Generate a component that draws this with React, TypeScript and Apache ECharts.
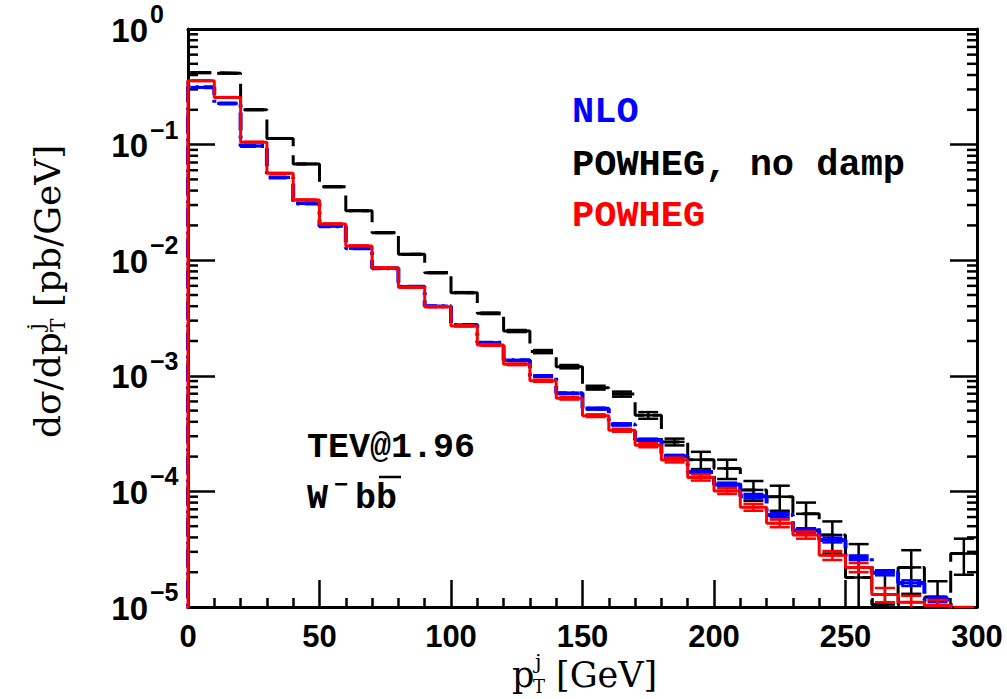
import React, { useEffect, useRef } from "react";
import * as echarts from "echarts";

// ---- data ----
const binEdges = [0, 10, 20, 30, 40, 50, 60, 70, 80, 90, 100, 110, 120, 130, 140, 150, 160, 170, 180, 190, 200, 210, 220, 230, 240, 250, 260, 270, 280, 290];
const binWidth = 10;
const xMax = 300;
const yMin = 1e-5;
const yMax = 1;
const histFloor = 1e-6;

const nlo = [0.313, 0.227, 0.0973, 0.052, 0.031, 0.0197, 0.0127, 0.0085, 0.0059, 0.004, 0.00275, 0.00193, 0.00136, 0.000996, 0.000705, 0.00052, 0.00038, 0.000279, 0.000201, 0.000147, 0.000115, 0.000091, 0.0000625, 0.000046, 0.000038, 0.0000267, 0.0000198, 0.0000161, 0.0000116, 0.000009];
const nloErr = [0.0015, 0.0011, 0.0005, 0.0003, 0.0002, 0.00012, 0.00008, 0.00005, 0.00004, 0.00003, 0.00002, 0.000015, 0.000015, 0.000012, 0.00001, 0.00001, 0.000008, 0.000007, 0.000006, 0.000005, 0.000004, 0.000004, 0.000003, 0.000002, 0.0000018, 0.0000012, 0.000001, 0.0000009, 0.0000006, 0.0000005];

const noDamp = [0.419, 0.414, 0.2, 0.113, 0.068, 0.0432, 0.0268, 0.0173, 0.01125, 0.0078, 0.00524, 0.00347, 0.00244, 0.00162, 0.0012, 0.00079, 0.000695, 0.000455, 0.000268, 0.000188, 0.000158, 0.000103, 0.00009, 0.000064, 0.000042, 0.000018, 0.0000105, 0.000022, 0.0000122, 0.000029];
const noDampErr = [0.002, 0.002, 0.001, 0.0006, 0.0004, 0.0003, 0.0002, 0.00012, 0.00009, 0.00007, 0.00005, 0.00005, 0.00005, 0.00005, 0.00004, 0.00003, 0.000035, 0.00003, 0.000018, 0.000032, 0.00003, 0.00002, 0.000022, 0.000016, 0.000013, 0.000017, 0.00001, 0.000009, 0.0000045, 0.00001];

const powheg = [0.357, 0.256, 0.105, 0.0564, 0.0332, 0.0206, 0.0133, 0.00857, 0.00582, 0.00396, 0.0027, 0.00185, 0.001256, 0.000907, 0.000638, 0.000452, 0.000338, 0.000251, 0.000187, 0.000132, 0.000101, 0.000073, 0.000053, 0.000042, 0.000028, 0.000022, 0.0000128, 0.000011, 0.0000103, 0.000009];
const powhegErr = [0.002, 0.0015, 0.0007, 0.0004, 0.00025, 0.00015, 0.0001, 0.00007, 0.00005, 0.00004, 0.00003, 0.00003, 0.00002, 0.00002, 0.000015, 0.000012, 0.00001, 0.00001, 0.000009, 0.000008, 0.000006, 0.000005, 0.000004, 0.000003, 0.0000025, 0.000002, 0.0000018, 0.0000015, 0.0000012, 0.000001];

const yTickExponents = [0, -1, -2, -3, -4, -5];
const minorMultipliers = [2, 3, 4, 5, 6, 7, 8, 9];
const decades = [1e-5, 1e-4, 1e-3, 1e-2, 1e-1];

const seriesNames = ["NLO", "POWHEG, no damp", "POWHEG"];
const seriesColors = ["#0000ff", "#000000", "#ff0000"];

const tickFont = "'Liberation Sans Narrow', 'Liberation Sans', Arial, sans-serif";
const monoFont = "'Liberation Mono', 'Courier New', monospace";
const serifFont = "'DejaVu Serif', serif";

function stepData(vals: number[]) {
  const pts: number[][] = [[binEdges[0], histFloor]];
  vals.forEach((v, i) => pts.push([binEdges[i], v]));
  pts.push([xMax, vals[vals.length - 1]]);
  return pts;
}

function errorSeries(vals: number[], errs: number[], color: string, width: number, z: number) {
  return {
    type: "custom",
    z,
    silent: true,
    data: vals.map((v, i) => [binEdges[i] + binWidth / 2, v, errs[i]]),
    renderItem: (params: any, api: any) => {
      const x = api.value(0);
      const v = api.value(1);
      const e = api.value(2);
      const cs = params.coordSys;
      const yTop = cs.y;
      const yBot = cs.y + cs.height;
      const pHi = api.coord([x, v + e]);
      const pMid = api.coord([x, v]);
      const loY = v - e > 0 ? api.coord([x, v - e])[1] : yBot + 50;
      if (pHi[1] > yBot) return null;
      const clamp = (y: number) => Math.min(Math.max(y, yTop), yBot);
      const cx = pMid[0];
      const half = 10;
      const children: any[] = [
        { type: "line", shape: { x1: cx, y1: clamp(pHi[1]), x2: cx, y2: clamp(loY) }, style: { stroke: color, lineWidth: width } },
      ];
      [pHi[1], pMid[1], loY].forEach((yy) => {
        if (yy >= yTop && yy <= yBot) {
          children.push({ type: "line", shape: { x1: cx - half, y1: yy, x2: cx + half, y2: yy }, style: { stroke: color, lineWidth: width } });
        }
      });
      return { type: "group", children };
    },
  };
}

const staticGraphics: any[] = [
  { type: "text", x: 572, y: 112, z: 10, style: { text: seriesNames[0], fill: seriesColors[0], font: `bold 37px ${monoFont}`, textVerticalAlign: "middle" } },
  { type: "text", x: 572, y: 165, z: 10, style: { text: seriesNames[1], fill: seriesColors[1], font: `bold 37px ${monoFont}`, textVerticalAlign: "middle" } },
  { type: "text", x: 572, y: 216, z: 10, style: { text: seriesNames[2], fill: seriesColors[2], font: `bold 37px ${monoFont}`, textVerticalAlign: "middle" } },
  { type: "text", x: 307, y: 448, z: 10, style: { text: "TEV@1.96", fill: "#000", font: `bold 35px ${monoFont}`, textVerticalAlign: "middle" } },
  { type: "text", x: 307, y: 499, z: 10, style: { text: "W", fill: "#000", font: `bold 35px ${monoFont}`, textVerticalAlign: "middle" } },
  { type: "text", x: 334, y: 485, z: 10, style: { text: "\u2212", fill: "#000", font: `bold 24px ${monoFont}`, textVerticalAlign: "middle" } },
  { type: "text", x: 355, y: 499, z: 10, style: { text: "bb", fill: "#000", font: `bold 35px ${monoFont}`, textVerticalAlign: "middle" } },
  { type: "line", z: 10, shape: { x1: 379, y1: 477, x2: 401, y2: 477 }, style: { stroke: "#000", lineWidth: 2.5 } },
  // x axis title
  { type: "text", x: 512, y: 675, z: 10, style: { text: "p", fill: "#000", font: `35px ${serifFont}`, textVerticalAlign: "middle" } },
  { type: "text", x: 535, y: 662, z: 10, style: { text: "j", fill: "#000", font: `21px ${serifFont}`, textVerticalAlign: "middle" } },
  { type: "text", x: 533, y: 686, z: 10, style: { text: "T", fill: "#000", font: `18px ${serifFont}`, textVerticalAlign: "middle" } },
  { type: "text", x: 556, y: 675, z: 10, style: { text: "[GeV]", fill: "#000", font: `35px ${serifFont}`, textVerticalAlign: "middle" } },
  // y axis title (rotated)
  {
    type: "group",
    x: 47,
    y: 284,
    rotation: Math.PI / 2,
    z: 10,
    children: [
      { type: "text", x: -154, y: 0, style: { text: "d\u03c3/dp", fill: "#000", font: `36px ${serifFont}`, textVerticalAlign: "middle" } },
      { type: "text", x: -46, y: -12, style: { text: "j", fill: "#000", font: `22px ${serifFont}`, textVerticalAlign: "middle" } },
      { type: "text", x: -48, y: 11, style: { text: "T", fill: "#000", font: `20px ${serifFont}`, textVerticalAlign: "middle" } },
      { type: "text", x: -23, y: 0, style: { text: "[pb/GeV]", fill: "#000", font: `36px ${serifFont}`, textVerticalAlign: "middle" } },
    ],
  },
];

export default function App() {
  const ref = useRef<HTMLDivElement>(null);
  useEffect(() => {
    if (!ref.current) return;
    const chart = echarts.init(ref.current, null, { renderer: "svg" });
    const minorVals: number[][] = [];
    decades.forEach((d) => minorMultipliers.forEach((m) => minorVals.push([0, d * m])));

    const option: any = {
      animation: false,
      backgroundColor: "#ffffff",
      grid: { left: 188, right: 30, top: 29, bottom: 92, containLabel: false },
      xAxis: [
        {
          type: "value",
          min: 0,
          max: xMax,
          interval: 50,
          position: "bottom",
          axisLine: { show: true, onZero: false, lineStyle: { color: "#000", width: 3 } },
          axisTick: { show: true, inside: true, length: 27, lineStyle: { color: "#000", width: 2.5 } },
          minorTick: { show: true, splitNumber: 5, length: 9, lineStyle: { color: "#000", width: 2.5 } },
          splitLine: { show: false },
          axisLabel: { show: true, margin: 14, color: "#000", fontSize: 31, fontWeight: "bold", fontFamily: tickFont },
        },
        {
          type: "value",
          min: 0,
          max: xMax,
          position: "top",
          axisLine: { show: true, onZero: false, lineStyle: { color: "#000", width: 3 } },
          axisTick: { show: false },
          axisLabel: { show: false },
          splitLine: { show: false },
        },
      ],
      yAxis: [
        {
          type: "log",
          logBase: 10,
          min: yMin,
          max: yMax,
          position: "left",
          axisLine: { show: true, onZero: false, lineStyle: { color: "#000", width: 3 } },
          axisTick: { show: true, inside: true, length: 27, lineStyle: { color: "#000", width: 2.5 } },
          splitLine: { show: false },
          axisLabel: { show: false },
        },
        {
          type: "log",
          logBase: 10,
          min: yMin,
          max: yMax,
          position: "right",
          axisLine: { show: true, onZero: false, lineStyle: { color: "#000", width: 3 } },
          axisTick: { show: true, inside: true, length: 27, lineStyle: { color: "#000", width: 2.5 } },
          splitLine: { show: false },
          axisLabel: { show: false },
        },
      ],
      series: [
        {
          type: "custom",
          name: "minorTicks",
          silent: true,
          z: 1,
          data: minorVals,
          renderItem: (params: any, api: any) => {
            const cs = params.coordSys;
            const y = api.coord([0, api.value(1)])[1];
            const st = { stroke: "#000", lineWidth: 2.5 };
            return {
              type: "group",
              children: [
                { type: "line", shape: { x1: cs.x, y1: y, x2: cs.x + 10, y2: y }, style: st },
                { type: "line", shape: { x1: cs.x + cs.width - 10, y1: y, x2: cs.x + cs.width, y2: y }, style: st },
              ],
            };
          },
        },
        {
          type: "line",
          name: seriesNames[1],
          step: "end",
          symbol: "none",
          clip: true,
          z: 3,
          data: stepData(noDamp),
          lineStyle: { color: seriesColors[1], width: 3, type: [22, 9] },
        },
        errorSeries(noDamp, noDampErr, seriesColors[1], 2.5, 3),
        {
          type: "line",
          name: seriesNames[0],
          step: "end",
          symbol: "none",
          clip: true,
          z: 4,
          data: stepData(nlo),
          lineStyle: { color: seriesColors[0], width: 4, type: [18, 5, 3, 5] },
        },
        errorSeries(nlo, nloErr, seriesColors[0], 2.5, 4),
        {
          type: "line",
          name: seriesNames[2],
          step: "end",
          symbol: "none",
          clip: true,
          z: 5,
          data: stepData(powheg),
          lineStyle: { color: seriesColors[2], width: 3 },
        },
        errorSeries(powheg, powhegErr, seriesColors[2], 2.5, 5),
      ],
      graphic: staticGraphics,
    };
    chart.setOption(option);

    // y tick labels 10^n placed through the axis scale
    const labelGraphics: any[] = [];
    yTickExponents.forEach((ex) => {
      const y = chart.convertToPixel({ yAxisIndex: 0 }, Math.pow(10, ex)) as number;
      const expText = ex < 0 ? "\u2212" + -ex : String(ex);
      labelGraphics.push({
        type: "text",
        x: 148,
        y: y + 1,
        z: 10,
        style: { text: "10", fill: "#000", font: `bold 33px ${tickFont}`, textAlign: "right", textVerticalAlign: "middle" },
      });
      labelGraphics.push({
        type: "text",
        x: 150,
        y: y - 15,
        z: 10,
        style: { text: expText, fill: "#000", font: `bold 25px ${tickFont}`, textAlign: "left", textVerticalAlign: "middle" },
      });
    });
    chart.setOption({ graphic: staticGraphics.concat(labelGraphics) }, { replaceMerge: ["graphic"] });

    return () => chart.dispose();
  }, []);
  return <div ref={ref} style={{ position: "fixed", left: 0, top: 0, width: 1007, height: 699, background: "#fff" }} />;
}
